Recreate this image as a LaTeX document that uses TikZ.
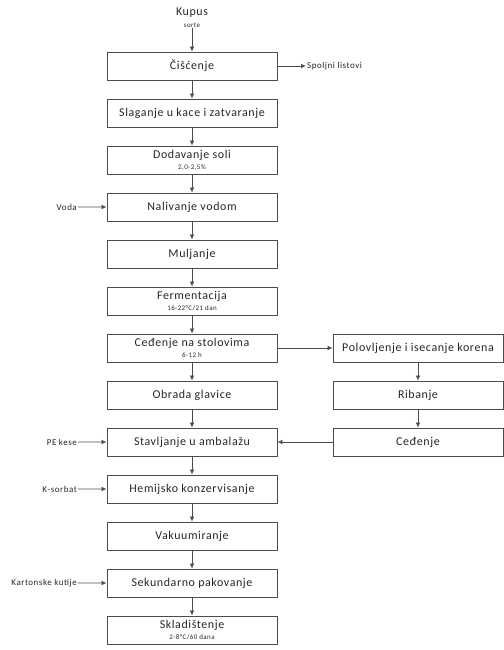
\documentclass[tikz,border=0pt]{standalone}
\usepackage{fontspec}
\setmainfont{Carlito}
\newfontfamily\boxfont[LetterSpace=5]{Carlito}
\newfontfamily\smallfont[LetterSpace=6]{Carlito}
\usetikzlibrary{arrows.meta,positioning}

\tikzset{
  box/.style={draw=black!70, line width=0.8pt, minimum width=170bp, minimum height=28bp,
    inner sep=1bp, align=center, text=black!85, font=\boxfont\fontsize{12}{12}\selectfont},
  side/.style={inner sep=1bp, text=black!85, font=\smallfont\fontsize{9}{10}\selectfont},
  arr/.style={draw=black!70, line width=0.7pt, -{Latex[length=5bp,width=4.5bp]}},
}
\newcommand{\sub}[1]{\\[-1bp]{\smallfont\fontsize{7}{8}\selectfont #1}}

\begin{document}
\begin{tikzpicture}[x=1bp,y=-1bp,on grid,node distance=47bp]
	\useasboundingbox (0,0) rectangle (504,650);
	
	% glavni tok
	\node[box] (cis) at (192,66) {Čišćenje};
	\node[box, below=of cis] (sla) {Slaganje u kace i zatvaranje};
	\node[box, below=of sla] (dod) {Dodavanje soli\sub{2,0-2,5\%}};
	\node[box, below=of dod] (nal) {Nalivanje vodom};
	\node[box, below=of nal] (mul) {Muljanje};
	\node[box, below=of mul] (fer) {Fermentacija\sub{16-22°C/21 dan}};
	\node[box, below=of fer] (ced) {Ceđenje na stolovima\sub{6-12 h}};
	\node[box, below=of ced] (obr) {Obrada glavice};
	\node[box, below=of obr] (sta) {Stavljanje u ambalažu};
	\node[box, below=of sta] (hem) {Hemijsko konzervisanje};
	\node[box, below=of hem] (vak) {Vakuumiranje};
	\node[box, below=of vak] (sek) {Sekundarno pakovanje};
	\node[box, below=of sek] (skl) {Skladištenje\sub{2-8°C/60 dana}};
	
	% desna grana
	\node[box, right=226bp of ced] (pol) {Polovljenje i isecanje korena};
	\node[box, below=of pol] (rib) {Ribanje};
	\node[box, below=of rib] (cdj) {Ceđenje};
	
	% ulaz i izlazi
	\node[text=black!85, font=\boxfont\fontsize{12}{12}\selectfont, inner sep=0pt] (kup) at (192,13) {Kupus};
	\node[text=black!85, font=\smallfont\fontsize{7}{8}\selectfont, inner sep=1bp] (sor) at (192,25) {sorte};
	\node[side, anchor=west] (spo) at (306,66) {Spoljni listovi};
	\node[side, anchor=east] (vod) at (78,207) {Voda};
	\node[side, anchor=east] (pek) at (78,442) {PE kese};
	\node[side, anchor=east] (kso) at (78,489) {K-sorbat};
	\node[side, anchor=east] (kar) at (78,583) {Kartonske kutije};
	
	\draw[arr] (sor) -- (cis);
	\draw[arr] (cis) -- (sla);
	\draw[arr] (sla) -- (dod);
	\draw[arr] (dod) -- (nal);
	\draw[arr] (nal) -- (mul);
	\draw[arr] (mul) -- (fer);
	\draw[arr] (fer) -- (ced);
	\draw[arr] (ced) -- (obr);
	\draw[arr] (obr) -- (sta);
	\draw[arr] (sta) -- (hem);
	\draw[arr] (hem) -- (vak);
	\draw[arr] (vak) -- (sek);
	\draw[arr] (sek) -- (skl);
	
	\draw[arr] (ced) -- (pol);
	\draw[arr] (pol) -- (rib);
	\draw[arr] (rib) -- (cdj);
	\draw[arr] (cdj) -- (sta);
	
	\draw[arr] (cis) -- (spo);
	\draw[arr] (vod) -- (nal);
	\draw[arr] (pek) -- (sta);
	\draw[arr] (kso) -- (hem);
	\draw[arr] (kar) -- (sek);
\end{tikzpicture}
\end{document}
